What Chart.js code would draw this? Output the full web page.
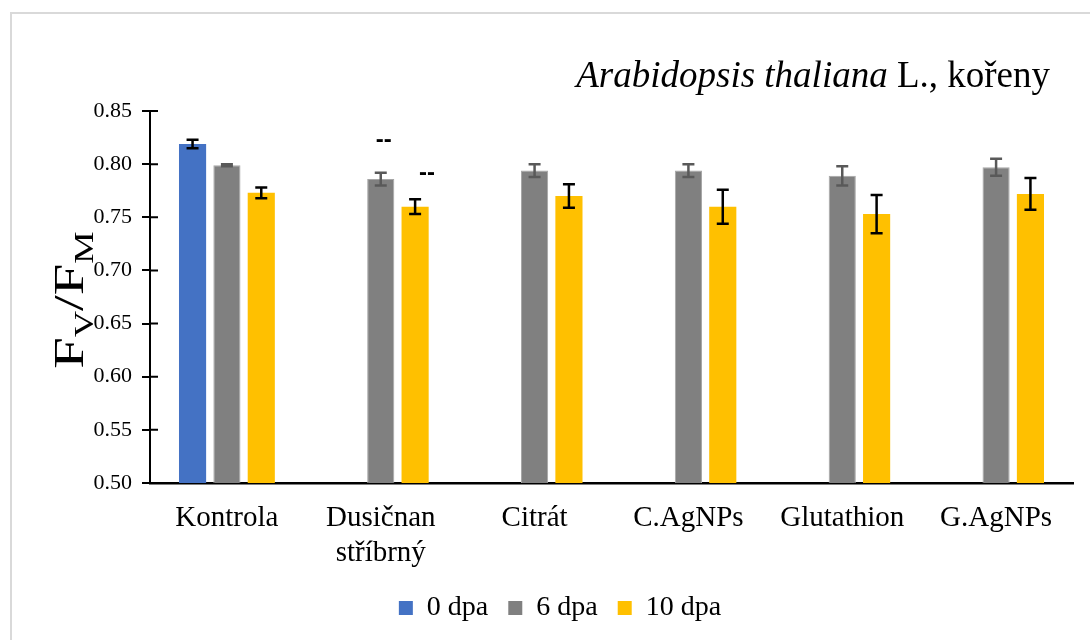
<!DOCTYPE html>
<html>
<head>
<meta charset="utf-8">
<script src="https://cdn.jsdelivr.net/npm/chart.js@4.4.1/dist/chart.umd.min.js"></script>
<style>
    html, body { margin: 0; padding: 0; background: #fff; }
    #frame { position: absolute; left: 10px; top: 12px; width: 1100px; height: 650px; border: 2px solid #d9d9d9; }
    #wrap { position: absolute; left: 0; top: 0; width: 1090px; height: 640px; }
</style>
</head>
<body>
<div id="frame"></div>
<div id="wrap"><canvas id="myChart" width="1090" height="640"></canvas></div>
<script>
// Data
const categories = ['Kontrola', ['Dusičnan', 'stříbrný'], 'Citrát', 'C.AgNPs', 'Glutathion', 'G.AgNPs'];
const dpa0 = [0.819, null, null, null, null, null];
const dpa0Err = [0.004, null, null, null, null, null];
const dpa6 = [0.799, 0.786, 0.794, 0.794, 0.789, 0.797];
const dpa6Err = [0.001, 0.006, 0.006, 0.006, 0.009, 0.008];
const dpa10 = [0.773, 0.760, 0.770, 0.760, 0.753, 0.772];
const dpa10Err = [0.005, 0.007, 0.011, 0.016, 0.018, 0.015];
const sig6 = ['', '--', '', '', '', ''];
const sig10 = ['', '--', '', '', '', ''];
const yTicks = [0.50, 0.55, 0.60, 0.65, 0.70, 0.75, 0.80, 0.85];

const serif = '"Liberation Serif", "Times New Roman", serif';

// Error bars + "--" marks
const errorBars = {
    id: 'errorBars',
    afterDatasetsDraw(chart) {
        const ctx = chart.ctx;
        const yScale = chart.scales.y;
        chart.data.datasets.forEach((ds, di) => {
            const meta = chart.getDatasetMeta(di);
            ds.data.forEach((v, i) => {
                if (v == null) return;
                const bar = meta.data[i];
                const e = ds.errors[i] || 0;
                const top = yScale.getPixelForValue(v + e);
                const bot = yScale.getPixelForValue(v - e);
                ctx.save();
                ctx.strokeStyle = ds.errorColor;
                ctx.lineWidth = 2.5;
                ctx.beginPath();
                ctx.moveTo(bar.x, top); ctx.lineTo(bar.x, bot);
                ctx.moveTo(bar.x - 6, top); ctx.lineTo(bar.x + 6, top);
                ctx.moveTo(bar.x - 6, bot); ctx.lineTo(bar.x + 6, bot);
                ctx.stroke();
                if (ds.marks && ds.marks[i]) {
                    ctx.fillStyle = '#000';
                    ctx.font = 'bold 24px "Liberation Sans", Arial, sans-serif';
                    ctx.textAlign = 'center';
                    ctx.textBaseline = 'middle';
                    ctx.fillText(ds.marks[i], bar.x + ds.markDx, top - ds.markDy);
                }
                ctx.restore();
            });
        });
    }
};

// Inner half of the y tick marks (they cross the axis)
const crossTicks = {
    id: 'crossTicks',
    afterDraw(chart) {
        const ctx = chart.ctx;
        const yScale = chart.scales.y;
        const x0 = chart.chartArea.left;
        ctx.save();
        ctx.strokeStyle = '#000';
        ctx.lineWidth = 2;
        ctx.beginPath();
        yTicks.forEach(t => {
            const y = yScale.getPixelForValue(t);
            ctx.moveTo(x0, y); ctx.lineTo(x0 + 8, y);
        });
        ctx.stroke();
        ctx.restore();
    }
};

// Title (partly italic) and y axis title with subscripts
const titles = {
    id: 'titles',
    afterDraw(chart) {
        const ctx = chart.ctx;
        ctx.save();
        ctx.fillStyle = '#000';
        ctx.textBaseline = 'alphabetic';
        ctx.textAlign = 'left';
        const italicFont = 'italic 37px ' + serif;
        const normalFont = '37px ' + serif;
        ctx.font = italicFont;
        const w1 = ctx.measureText('Arabidopsis thaliana').width;
        ctx.font = normalFont;
        const w2 = ctx.measureText(' L., kořeny').width;
        let x = 1050 - w1 - w2;
        ctx.font = italicFont;
        ctx.fillText('Arabidopsis thaliana', x, 87);
        ctx.font = normalFont;
        ctx.fillText(' L., kořeny', x + w1, 87);

        // F_V/F_M rotated
        const parts = [
            { t: 'F', f: '42px ' + serif, dy: 0 },
            { t: 'V', f: '27px ' + serif, dy: 10 },
            { t: '/', f: '42px ' + serif, dy: 0 },
            { t: 'F', f: '42px ' + serif, dy: 0 },
            { t: 'M', f: '27px ' + serif, dy: 10 }
        ];
        let total = 0;
        parts.forEach(p => { ctx.font = p.f; p.w = ctx.measureText(p.t).width; total += p.w; });
        ctx.translate(83, 300);
        ctx.rotate(-Math.PI / 2);
        ctx.scale(1.35, 1);
        let px = -total / 2;
        parts.forEach(p => {
            ctx.font = p.f;
            ctx.fillText(p.t, px, p.dy);
            px += p.w;
        });
        ctx.restore();
    }
};

const ctxChart = document.getElementById('myChart');

const myChart = new Chart(ctxChart, {
    type: 'bar',
    data: {
        labels: categories,
        datasets: [
            {
                label: '0 dpa',
                data: dpa0,
                errors: dpa0Err,
                backgroundColor: '#4472C4',
                borderWidth: 0,
                errorColor: '#000'
            },
            {
                label: '6 dpa',
                data: dpa6,
                errors: dpa6Err,
                backgroundColor: '#808080',
                borderColor: '#a6a6a6',
                borderWidth: 1,
                errorColor: '#595959',
                marks: sig6,
                markDx: 3,
                markDy: 32
            },
            {
                label: '10 dpa',
                data: dpa10,
                errors: dpa10Err,
                backgroundColor: '#FFC000',
                borderWidth: 0,
                errorColor: '#000',
                marks: sig10,
                markDx: 12,
                markDy: 26
            }
        ]
    },
    options: {
        responsive: false,
        animation: false,
        devicePixelRatio: 1,
        categoryPercentage: 0.67,
        barPercentage: 0.79,
        layout: {
            padding: { left: 47, right: 17, top: 111, bottom: 8 }
        },
        plugins: {
            title: { display: false },
            tooltip: { enabled: false },
            legend: {
                position: 'bottom',
                labels: {
                    color: '#000',
                    boxWidth: 14,
                    boxHeight: 14,
                    padding: 20,
                    font: { family: serif, size: 28 },
                    generateLabels: (chart) => chart.data.datasets.map((ds, i) => ({
                        text: ds.label,
                        fillStyle: ds.backgroundColor,
                        strokeStyle: ds.backgroundColor,
                        lineWidth: 0,
                        fontColor: '#000',
                        hidden: false,
                        datasetIndex: i
                    }))
                }
            }
        },
        scales: {
            x: {
                grid: { display: false },
                border: { display: true, color: '#000', width: 2.5 },
                ticks: {
                    color: '#000',
                    padding: 10,
                    maxRotation: 0,
                    autoSkip: false,
                    font: { family: serif, size: 29 }
                },
                afterFit: (scale) => { scale.height = 91; }
            },
            y: {
                min: 0.5,
                max: 0.85,
                grid: {
                    drawOnChartArea: false,
                    drawTicks: true,
                    tickLength: 8,
                    color: '#000',
                    lineWidth: 2
                },
                border: { display: true, color: '#000', width: 2 },
                ticks: {
                    stepSize: 0.05,
                    color: '#000',
                    padding: 10,
                    font: { family: serif, size: 22 },
                    callback: (value) => value.toFixed(2)
                },
                afterFit: (scale) => { scale.width = 103; }
            }
        }
    },
    plugins: [errorBars, crossTicks, titles]
});
</script>
</body>
</html>
